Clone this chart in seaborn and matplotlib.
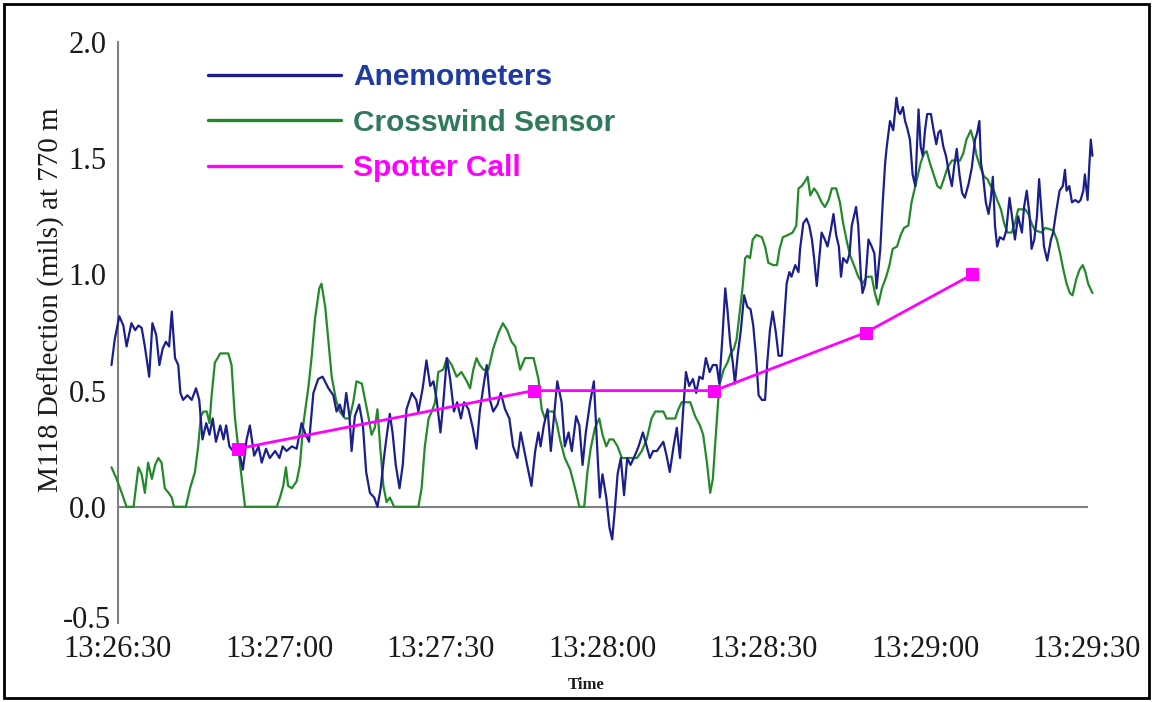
import matplotlib
matplotlib.use("Agg")
import matplotlib.pyplot as plt
import seaborn as sns
import pandas as pd
from matplotlib.patches import Rectangle
from matplotlib.lines import Line2D
from matplotlib.ticker import FixedLocator, MultipleLocator
from matplotlib.transforms import ScaledTranslation

# ---------------- data (seconds after 13:26:30, deflection in mils) ----------------
anem_sec = [-1.2, -0.6, 0.25, 1.0, 1.6, 2.5, 3.2, 3.8, 4.4, 5.0, 5.8, 6.4, 7.1, 7.7, 8.3, 8.9, 9.5, 10.0, 10.6, 11.2,
            11.6, 12.1, 12.9, 13.7, 14.5, 15.1, 15.7, 16.4, 17.0, 17.6, 18.2, 19.0, 19.6, 20.1, 20.7, 21.4, 22.4, 23.2,
            23.9, 24.5, 25.3, 26.1, 26.7, 27.5, 28.2, 29.2, 30.0, 30.6, 31.3, 32.3, 33.2, 34.1, 34.7, 35.5, 36.3, 37.2,
            38.0, 39.1, 40.0, 40.6, 41.2, 41.9, 42.4, 43.0, 43.4, 44.0, 44.8, 45.5, 46.1, 46.8, 47.6, 48.2, 48.8, 49.4,
            50.0, 50.5, 51.0, 51.6, 52.3, 52.9, 53.6, 54.6, 55.4, 55.8, 56.6, 57.3, 58.0, 58.6, 59.2, 59.9, 60.4, 61.1,
            61.7, 62.4, 63.0, 63.7, 64.3, 65.1, 65.9, 66.6, 67.2, 67.9, 68.5, 69.1, 69.7, 70.5, 71.1, 71.9, 72.7, 73.4,
            74.2, 74.8, 75.4, 76.0, 76.8, 77.5, 78.1, 78.5, 79.1, 79.8, 80.4, 81.0, 81.6, 82.4, 83.0, 83.7, 84.3, 85.1,
            85.7, 86.3, 86.9, 87.7, 88.4, 89.0, 89.5, 90.0, 90.7, 91.3, 91.8, 92.3, 92.8, 93.4, 94.0, 94.6, 95.2, 96.0,
            96.7, 97.5, 98.2, 98.8, 99.4, 100.1, 100.7, 101.3, 101.9, 102.5, 103.2, 103.8, 104.4, 105.0, 105.5, 106.1,
            106.8, 107.4, 108.0, 108.6, 109.2, 109.9, 110.5,
            111.2, 111.7, 112.3, 112.8, 113.2, 113.7, 114.2, 114.6, 115.1, 115.7, 116.3, 116.9, 117.5, 118.0, 118.5,
            119.0, 119.6, 120.2, 120.6, 121.1, 121.6, 122.2, 122.7, 123.3, 123.7, 124.2, 124.7, 125.1, 125.8, 126.4,
            126.7, 127.3, 127.9, 128.4, 128.9, 129.3, 129.8, 130.3, 130.7, 131.3, 131.8, 132.4, 132.9, 133.4, 133.9,
            134.3, 134.7, 135.4, 135.9, 136.3, 137.1, 137.5, 138.0, 138.3, 138.8, 139.4, 140.0, 140.5, 140.9, 141.6,
            142.0, 142.5, 142.8, 143.4, 144.0, 144.6, 145.0,
            145.3, 145.8, 146.2, 146.6, 147.1, 147.6, 148.1, 148.4, 148.7, 149.1, 149.5, 149.9, 150.3, 151.0, 151.5,
            152.0, 152.4, 152.8, 153.3, 153.8, 154.4, 154.9, 155.3, 155.8, 156.3, 156.8, 157.3, 158.0, 158.6, 159.2,
            159.6, 160.0, 160.3, 160.7, 161.2, 161.7, 162.1, 162.5, 162.9, 163.3, 163.8, 164.5, 165.0, 165.6, 166.0,
            166.6, 167.2, 167.9, 168.3, 168.8, 169.3, 169.7, 170.2, 170.7, 171.1, 171.6, 172.0, 172.6, 173.3, 173.7,
            174.2, 174.9, 175.5, 175.9, 176.2, 176.7, 177.2, 177.8, 178.4, 178.8, 179.3, 179.6, 180.1, 180.4, 180.7,
            181.0]
anem_mils = [0.61, 0.72, 0.82, 0.78, 0.69, 0.79, 0.76, 0.78, 0.77, 0.69, 0.56, 0.79, 0.74, 0.61, 0.68, 0.71, 0.69, 0.84,
             0.64, 0.61, 0.49, 0.46, 0.48, 0.46, 0.51, 0.46, 0.29, 0.36, 0.31, 0.38, 0.28, 0.35, 0.29, 0.35, 0.26, 0.24,
             0.25, 0.16, 0.29, 0.35, 0.22, 0.26, 0.19, 0.25, 0.21, 0.24, 0.21, 0.26, 0.24, 0.26, 0.25, 0.36, 0.32, 0.28,
             0.49, 0.55,
             0.56, 0.51, 0.48, 0.41, 0.44, 0.39, 0.49, 0.39, 0.24, 0.39, 0.44, 0.35, 0.15, 0.06, 0.04, 0.0, 0.08, 0.21,
             0.32, 0.40, 0.32, 0.18, 0.08, 0.18, 0.42, 0.49, 0.46, 0.41, 0.51, 0.63, 0.52, 0.54, 0.46, 0.32, 0.44, 0.64,
             0.55, 0.41, 0.45, 0.38, 0.45, 0.42, 0.34, 0.25, 0.41, 0.52, 0.61, 0.46, 0.41, 0.44, 0.49, 0.42, 0.38, 0.26,
             0.21, 0.32, 0.25, 0.18, 0.09, 0.24, 0.32, 0.26, 0.35, 0.42, 0.24, 0.39, 0.54, 0.45, 0.26, 0.32, 0.24, 0.39,
             0.35, 0.18, 0.32, 0.45, 0.54, 0.26, 0.04, 0.14, 0.04, -0.09, -0.14, -0.01, 0.14, 0.21, 0.05, 0.21, 0.18, 0.22,
             0.26, 0.32, 0.26, 0.21, 0.24, 0.24, 0.26, 0.28, 0.22, 0.15, 0.26, 0.34, 0.21, 0.42, 0.58, 0.52,
             0.55, 0.49, 0.56, 0.55, 0.64, 0.58, 0.61,
             0.61, 0.53, 0.74, 0.94, 0.85, 0.71, 0.62, 0.53, 0.65, 0.76, 0.91, 0.86, 0.85, 0.78, 0.65,
             0.48, 0.46, 0.46, 0.62, 0.76, 0.84, 0.75, 0.65, 0.65, 0.79, 0.96, 1.01, 0.99, 1.04, 1.01,
             1.11, 1.22, 1.24, 1.21, 1.15, 1.07, 0.95, 1.08, 1.18, 1.15, 1.12, 1.19, 1.26, 1.17, 1.12,
             0.99, 1.07, 1.05, 1.09, 1.21, 1.29, 1.21, 0.99, 0.92, 0.96, 1.15, 1.12, 1.09, 0.94, 1.11,
             1.29, 1.48, 1.55, 1.66, 1.62, 1.76, 1.70,
             1.69, 1.72, 1.66, 1.63, 1.58, 1.43, 1.38, 1.54, 1.71, 1.55, 1.51, 1.62, 1.69, 1.69, 1.62,
             1.56, 1.61, 1.62, 1.55, 1.51, 1.43, 1.38, 1.46, 1.54, 1.43, 1.35, 1.33, 1.39, 1.46, 1.58,
             1.61, 1.66, 1.48, 1.42, 1.31, 1.26, 1.32, 1.42, 1.21, 1.12, 1.16, 1.15, 1.19, 1.33, 1.26,
             1.15, 1.25, 1.18, 1.29, 1.36, 1.26, 1.11, 1.15, 1.25, 1.41, 1.25, 1.12, 1.06, 1.15, 1.18,
             1.26, 1.36, 1.38, 1.45, 1.36, 1.38, 1.31, 1.32, 1.31, 1.32, 1.36, 1.43, 1.32, 1.46, 1.58,
             1.51]

cross_sec = [-1.2, -0.25, 0.7, 1.6, 2.9, 3.8, 4.4, 5.0, 5.6, 6.3, 6.9, 7.5, 8.1, 8.7, 9.4, 10.0, 10.4, 12.6, 13.4, 14.3,
             14.9, 15.4, 15.9, 16.5, 17.0, 17.4, 18.0, 19.0, 20.5, 21.1, 21.7, 22.4, 23.0, 23.6, 29.5, 30.1, 30.7, 31.2,
             31.6, 32.3, 33.2, 33.8, 34.4, 35.4, 36.0, 36.6, 37.4,
             37.8, 38.5, 39.1, 39.7, 40.5, 41.2, 42.2, 43.0, 43.7, 44.3, 45.3, 45.9, 46.5, 47.1, 47.7, 48.2, 48.7, 49.3,
             49.9, 50.5, 51.3, 55.8, 56.4, 57.0, 57.7, 58.3, 58.9, 59.5, 60.4, 61.1, 62.0, 62.9, 63.8, 64.8, 65.4, 66.0,
             66.6, 67.2, 67.9, 68.8, 69.7, 70.7, 71.5, 72.3, 73.1,
             73.8, 74.7, 75.6, 77.2, 78.1, 78.7, 79.3, 79.9, 80.9, 81.5, 82.1, 83.0, 84.0, 84.9, 85.7, 86.6, 87.2, 87.8,
             88.6, 89.4, 90.0, 90.7, 91.3, 92.0, 92.8, 93.6, 96.4, 97.3, 98.2, 99.1, 99.8, 101.3, 101.9, 103.5, 104.1,
             104.7, 106.3, 107.2, 108.1, 108.7, 109.4, 110.0, 110.5, 110.9, 111.5,
             111.8, 112.5, 113.2, 113.8, 114.4, 114.9, 115.5, 116.0, 116.5, 116.9, 117.4, 117.9, 118.6, 119.6, 120.2,
             120.8, 121.7, 122.4, 122.9, 123.5, 124.5, 125.3, 126.0, 126.4, 127.0, 127.6, 128.1, 128.6, 129.3, 129.9,
             130.7, 131.3, 132.0, 132.6, 133.4, 134.1, 134.7, 135.4, 136.0, 136.7, 137.5, 138.3, 139.1, 140.0, 140.6,
             141.2, 141.9, 142.7, 143.3, 143.9, 144.7, 145.4, 146.0, 146.8, 147.4, 148.1, 148.7,
             149.1, 149.7, 150.2, 150.8, 151.5, 152.2, 152.8, 153.4, 154.1, 154.9, 156.4, 157.0, 157.6, 158.4, 158.9,
             159.5, 160.2, 160.9, 161.5, 162.1, 162.7, 163.3, 164.0, 164.6, 165.2, 166.0, 166.6, 167.2, 168.5, 169.1,
             169.7, 170.3, 171.6, 172.2, 173.7, 174.4, 175.0, 175.6, 176.2, 176.8, 177.3, 178.0, 178.6, 179.2, 179.7,
             180.2, 181.0]
cross_mils = [0.17, 0.12, 0.06, 0.0, 0.0, 0.17, 0.14, 0.06, 0.19, 0.12, 0.18, 0.21, 0.19, 0.08, 0.06, 0.04, 0.0, 0.0,
              0.08, 0.15, 0.26, 0.39, 0.41, 0.41, 0.36, 0.48, 0.62, 0.66, 0.66, 0.61, 0.39, 0.24, 0.12, 0.0, 0.0, 0.04,
              0.09, 0.17, 0.09, 0.08, 0.11, 0.18, 0.35, 0.52, 0.65, 0.81, 0.94,
              0.96, 0.86, 0.71, 0.56, 0.46, 0.41, 0.38, 0.38, 0.45, 0.54, 0.53, 0.46, 0.39, 0.31, 0.34, 0.42, 0.26, 0.09,
              0.02, 0.04, 0.0, 0.0, 0.08, 0.26, 0.38, 0.41, 0.45, 0.58, 0.59, 0.64, 0.61, 0.56, 0.58, 0.54, 0.51, 0.59,
              0.64, 0.61, 0.59, 0.59, 0.68, 0.75, 0.79, 0.76, 0.71,
              0.69, 0.59, 0.64, 0.64, 0.55, 0.42, 0.38, 0.41, 0.41, 0.36, 0.29, 0.21, 0.16, 0.08, 0.0, 0.0, 0.15, 0.25,
              0.34, 0.38, 0.31, 0.26, 0.29, 0.29, 0.26, 0.21, 0.21, 0.24, 0.29, 0.38, 0.41, 0.41, 0.38, 0.38, 0.42,
              0.45, 0.45, 0.39, 0.35, 0.31, 0.19, 0.06, 0.12, 0.26, 0.46,
              0.53, 0.59, 0.62, 0.66, 0.68, 0.72, 0.84, 0.94, 1.07, 1.08, 1.07, 1.15, 1.17, 1.16, 1.12,
              1.05, 1.04, 1.04, 1.11, 1.16, 1.17, 1.18, 1.21, 1.37, 1.38, 1.40, 1.42, 1.34, 1.37, 1.35,
              1.31, 1.29, 1.32, 1.37, 1.37, 1.31, 1.22, 1.14, 1.08, 1.04, 0.99, 0.96, 0.99, 0.99, 0.92,
              0.87, 0.94, 0.99, 1.04, 1.11, 1.12, 1.17, 1.20, 1.21, 1.31, 1.38, 1.44,
              1.48, 1.52, 1.53, 1.48, 1.43, 1.38, 1.37, 1.41, 1.46, 1.49, 1.49, 1.52, 1.58, 1.62, 1.58,
              1.51, 1.46, 1.42, 1.41, 1.38, 1.36, 1.32, 1.28, 1.22, 1.18, 1.18, 1.22, 1.28, 1.28, 1.26,
              1.22, 1.19, 1.18, 1.20, 1.19, 1.15, 1.09, 1.02, 0.96, 0.92, 0.91, 0.98, 1.02, 1.04, 1.01,
              0.96, 0.92]

spot_sec = [22.3, 77.2, 110.8, 138.9, 158.7]
spot_mils = [0.25, 0.5, 0.5, 0.75, 1.0]

xtick_sec = [0, 30, 60, 90, 120, 150, 180]
xtick_labels = ["13:26:30", "13:27:00", "13:27:30", "13:28:00", "13:28:30", "13:29:00", "13:29:30"]
ytick_vals = [-0.5, 0.0, 0.5, 1.0, 1.5, 2.0]
ytick_labels = ["-0.5", "0.0", "0.5", "1.0", "1.5", "2.0"]
series_names = ["Anemometers", "Crosswind Sensor", "Spotter Call"]

# ---------------- styling ----------------
sns.set_style("white")
plt.rcParams['font.family'] = ['Liberation Serif', 'DejaVu Serif']

BLUE = '#1B1F8C'
GREEN = '#23892A'
MAGENTA = '#FF00FF'
GRAY = '#808080'

anem_df = pd.DataFrame({"t": anem_sec, "v": anem_mils})
cross_df = pd.DataFrame({"t": cross_sec, "v": cross_mils})
spot_df = pd.DataFrame({"t": spot_sec, "v": spot_mils})

fig = plt.figure(figsize=(11.53, 7.02), dpi=100)
ax = fig.add_axes([0.1023, 0.1125, 0.8405, 0.8277])

sns.lineplot(data=cross_df, x="t", y="v", ax=ax, color=GREEN, lw=1.6, estimator=None, sort=False,
             clip_on=False, zorder=3)
sns.lineplot(data=anem_df, x="t", y="v", ax=ax, color=BLUE, lw=1.6, estimator=None, sort=False,
             clip_on=False, zorder=4)
sns.lineplot(data=spot_df, x="t", y="v", ax=ax, color=MAGENTA, lw=2.0, estimator=None, sort=False,
             marker='s', markersize=8.5, markeredgecolor=MAGENTA, markerfacecolor=MAGENTA,
             clip_on=False, zorder=5)

ax.set_xlim(0, 180)
ax.set_ylim(-0.5, 2.0)

for s in ['top', 'right']:
    ax.spines[s].set_visible(False)
ax.spines['left'].set_color(GRAY)
ax.spines['left'].set_linewidth(1.5)
ax.spines['bottom'].set_color(GRAY)
ax.spines['bottom'].set_linewidth(1.5)
ax.spines['bottom'].set_position(('data', 0))

ax.xaxis.set_major_locator(FixedLocator(xtick_sec))
ax.set_xticklabels(xtick_labels)
ax.xaxis.set_minor_locator(MultipleLocator(10))
ax.yaxis.set_major_locator(FixedLocator(ytick_vals))
ax.set_yticklabels(ytick_labels)
ax.yaxis.set_minor_locator(MultipleLocator(0.25))

ax.tick_params(axis='x', which='major', direction='inout', length=8, width=1.4, color=GRAY,
               labelsize=22, pad=88, labelcolor='#1a1a1a')
ax.tick_params(axis='x', which='minor', direction='out', length=3, width=1.2, color=GRAY)
ax.tick_params(axis='y', which='major', direction='inout', length=8, width=1.4, color=GRAY,
               labelsize=22, pad=4, labelcolor='#1a1a1a')
ax.tick_params(axis='y', which='minor', direction='out', length=3, width=1.2, color=GRAY)
ax.grid(False)

# the lowest y label sits a little higher and closer to the axis, as in the reference
low_lbl = ax.get_yticklabels()[0]
low_lbl.set_transform(low_lbl.get_transform() + ScaledTranslation(4 / 100, 6 / 100, fig.dpi_scale_trans))

ax.set_ylabel("M118 Deflection (mils) at 770 m", fontsize=21, color='#1a1a1a')
ax.yaxis.set_label_coords(-0.055, 0.556)
ax.set_xlabel("Time", fontsize=12, fontweight='bold', color='#1a1a1a')
ax.xaxis.set_label_coords(0.483, -0.093)

handles = [Line2D([], [], color=BLUE, lw=2.4),
           Line2D([], [], color=GREEN, lw=2.4),
           Line2D([], [], color=MAGENTA, lw=2.4)]
leg = ax.legend(handles, series_names, loc='upper left', bbox_to_anchor=(0.093, 0.963),
                frameon=False, borderpad=0, borderaxespad=0, handlelength=4.45, handletextpad=0.40,
                labelspacing=0.58, prop={'family': 'Liberation Sans', 'weight': 'bold', 'size': 21.5})
for txt, c in zip(leg.get_texts(), ['#1F3BA3', '#2E7A5A', MAGENTA]):
    txt.set_color(c)

fig.patches.append(Rectangle((4 / 1153, 4 / 702), 1145 / 1153, 694 / 702, fill=False,
                             edgecolor='black', linewidth=2, transform=fig.transFigure, figure=fig))

fig.savefig("out.png", dpi=100)
